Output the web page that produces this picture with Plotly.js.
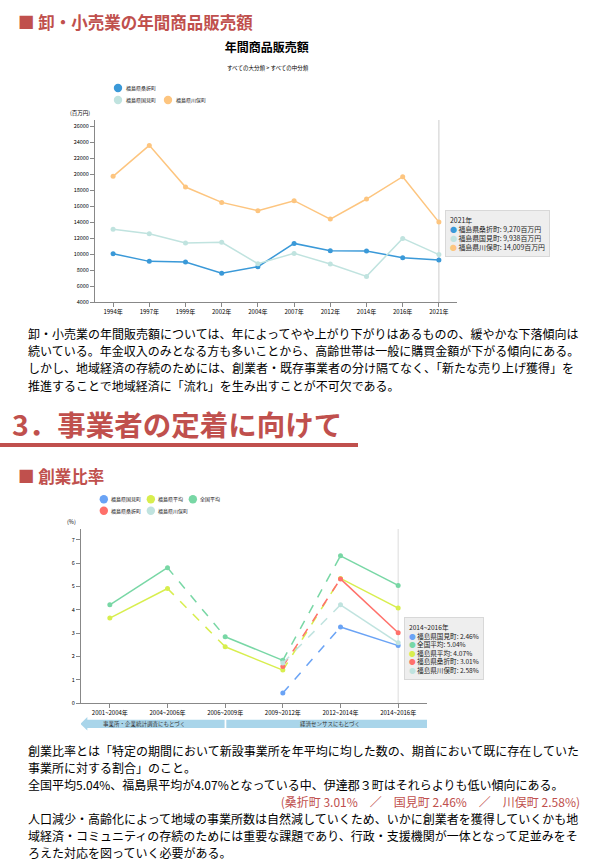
<!DOCTYPE html>
<html><head><meta charset="utf-8">
<script src="https://cdn.plot.ly/plotly-3.0.1.min.js"></script>
<style>
body{margin:0;width:612px;height:859px;position:relative;background:#fff;font-family:"Noto Sans CJK JP","Noto Sans",sans-serif;overflow:hidden;color:#000}
.hd{position:absolute;color:#c0504d;font-weight:bold;white-space:nowrap}
.p{position:absolute;left:28px;width:570px;font-size:12px;line-height:17.2px;margin:0;white-space:nowrap}
.chart{position:absolute;left:0;width:612px}
</style></head><body>
<div class="hd" style="left:18px;top:11px;font-size:16.5px;line-height:22px;">■ 卸・小売業の年間商品販売額</div>
<div id="c1" class="chart" style="top:35px;height:290px;"></div>
<div class="p" style="top:325px;">卸・小売業の年間販売額については、年によってやや上がり下がりはあるものの、緩やかな下落傾向は<br>続いている。年金収入のみとなる方も多いことから、高齢世帯は一般に購買金額が下がる傾向にある。<br>しかし、地域経済の存続のためには、創業者・既存事業者の分け隔てなく、「新たな売り上げ獲得」を<br>推進することで地域経済に「流れ」を生み出すことが不可欠である。</div>
<div class="hd" style="left:12px;top:406px;font-size:28.5px;line-height:36px;">3．事業者の定着に向けて</div>
<div style="position:absolute;left:0;top:443px;width:358px;height:4px;background:#c0504d;"></div>
<div class="hd" style="left:18px;top:465px;font-size:16.5px;line-height:22px;">■ 創業比率</div>
<div id="c2" class="chart" style="top:460px;height:280px;"></div>
<div class="p" style="top:742px;line-height:17px;">創業比率とは「特定の期間において新設事業所を年平均に均した数の、期首において既に存在していた<br>事業所に対する割合」のこと。<br>全国平均5.04%、福島県平均が4.07%となっている中、伊達郡３町はそれらよりも低い傾向にある。<br><div style="text-align:right;color:#c0504d;width:552px;">(桑折町 3.01%　／　国見町 2.46%　／　川俣町 2.58%)</div>人口減少・高齢化によって地域の事業所数は自然減していくため、いかに創業者を獲得していくかも地<br>域経済・コミュニティの存続のためには重要な課題であり、行政・支援機関が一体となって足並みをそ<div style="line-height:12px;margin-top:2.5px;">ろえた対応を図っていく必要がある。</div></div>
<script>
// ---- Chart 1 data ----
const years1 = ['1994年','1997年','1999年','2002年','2004年','2007年','2012年','2014年','2016年','2021年'];
const names1 = ['福島県桑折町','福島県国見町','福島県川俣町'];
const koori1 = [10050, 9090, 9010, 7590, 8420, 11340, 10430, 10380, 9550, 9270];
const kunimi1 = [13100, 12550, 11390, 11470, 8800, 10090, 8760, 7210, 11970, 9938];
const kawamata1 = [19740, 23620, 18400, 16480, 15440, 16690, 14390, 16900, 19700, 14009];
const colors1 = ['#3a99d8', '#c0e3df', '#fdc57f'];

// ---- Chart 2 data ----
const periods2 = ['2001~2004年','2004~2006年','2006~2009年','2009~2012年','2012~2014年','2014~2016年'];
const names2 = ['福島県国見町','福島県平均','全国平均','福島県桑折町','福島県川俣町'];
const kunimi2 = [null, null, null, 0.43, 3.26, 2.46];
const fukushima2 = [3.64, 4.91, 2.41, 1.41, 5.34, 4.07];
const national2 = [4.21, 5.80, 2.84, 1.83, 6.31, 5.04];
const koori2 = [null, null, null, 1.57, 5.32, 3.01];
const kawamata2 = [null, null, null, 1.71, 4.21, 2.58];
const colors2 = ['#6aa3f5', '#d8ee4e', '#78d7a5', '#ff706a', '#c0e3df'];
const dashedSegment = [false, true, false, true, false];
const tipOrder2 = [0, 2, 1, 3, 4];

// legend item pixel positions (circle centres) – layout only
const legendPos1 = [[118, 88], [118, 100], [168, 100]];
const legendPos2 = [[104, 499.5], [151, 499.5], [193, 499.5], [104, 511], [151, 511]];

const FONT = 'Noto Sans CJK JP';

function addLegend(layout, names, colors, pos, box) {
  names.forEach((n, k) => {
    const px = pos[k][0], py = pos[k][1];
    const xp = (px - box.l) / box.w, yp = (box.b - py) / box.h;
    layout.shapes.push({type: 'circle', xref: 'paper', yref: 'paper', xsizemode: 'pixel', ysizemode: 'pixel',
      xanchor: xp, yanchor: yp, x0: -4.2, x1: 4.2, y0: -4.2, y1: 4.2,
      fillcolor: colors[k], line: {width: 0}});
    layout.annotations.push({text: n, xref: 'paper', yref: 'paper', x: xp, y: yp, xshift: 5.5,
      xanchor: 'left', yanchor: 'middle', showarrow: false, font: {size: 5, color: '#111'}});
  });
}

// ===== Chart 1 =====
(function(){
  const series = [koori1, kunimi1, kawamata1];
  const idx = years1.map((_, i) => i);
  const traces = series.map((s, k) => ({x: idx, y: s, type: 'scatter', mode: 'lines+markers', name: names1[k],
      line: {color: colors1[k], width: 1.5}, marker: {color: colors1[k], size: 5},
      showlegend: false, hoverinfo: 'skip'}));
  const last = years1.length - 1;
  let tip = years1[last];
  series.forEach((s, k) => {
    tip += '<br><span style="color:' + colors1[k] + '">●</span> ' + names1[k] + ': ' + s[last].toLocaleString('en-US') + '百万円';
  });
  const box = {l: 95, w: 362, b: 302.3, h: 182.3};
  const layout = {
    width: 612, height: 290,
    margin: {l: 95, r: 155, t: 85, b: 22.7},
    paper_bgcolor: 'rgba(0,0,0,0)', plot_bgcolor: 'rgba(0,0,0,0)',
    font: {family: FONT, size: 6, color: '#000'},
    showlegend: false,
    title: {text: '年間商品販売額', font: {family: FONT, size: 12, color: '#000', weight: 'bold'},
      x: 0.436, xref: 'container', xanchor: 'center', y: 0.955, yref: 'container', yanchor: 'middle'},
    xaxis: {range: [-0.5, 9.5], tickvals: idx, ticktext: years1, showline: true, linecolor: '#888',
      ticks: 'outside', ticklen: 4, tickcolor: '#888', showgrid: false, zeroline: false,
      tickfont: {size: 6, color: '#000'}, fixedrange: true},
    yaxis: {range: [4000, 26800], tick0: 4000, dtick: 2000, tickformat: 'd', showline: true,
      linecolor: '#888', ticks: 'outside', ticklen: 4, tickcolor: '#888', showgrid: false,
      zeroline: false, tickfont: {size: 5.5, color: '#000'}, fixedrange: true},
    shapes: [{type: 'line', xref: 'x', yref: 'paper', x0: last, x1: last, y0: 0, y1: 1,
      line: {color: '#cccccc', width: 1}, layer: 'below'}],
    annotations: [
      {text: 'すべての大分類 > すべての中分類', xref: 'paper', yref: 'paper', x: 0.478, y: 1.285,
        xanchor: 'center', yanchor: 'middle', showarrow: false, font: {size: 5.5}},
      {text: '(百万円)', xref: 'paper', yref: 'paper', x: -0.008, y: 1.038, xanchor: 'right',
        yanchor: 'middle', showarrow: false, font: {size: 5.5}},
      {text: tip, xref: 'x', yref: 'y', x: last, y: 12550, xanchor: 'left', xshift: 6,
        yanchor: 'middle', align: 'left', showarrow: false, bgcolor: '#eeeeee',
        bordercolor: '#d8d8d8', borderwidth: 1, borderpad: 4, font: {size: 6.9, color: '#222'}}
    ]
  };
  addLegend(layout, names1, colors1, legendPos1, box);
  Plotly.newPlot('c1', traces, layout, {staticPlot: true, displayModeBar: false});
})();

// ===== Chart 2 =====
(function(){
  const series = [kunimi2, fukushima2, national2, koori2, kawamata2];
  const idx = periods2.map((_, i) => i);
  const traces = [];
  series.forEach((s, k) => {
    for (let i = 0; i < s.length - 1; i++) {
      if (s[i] === null || s[i + 1] === null) continue;
      traces.push({x: [idx[i], idx[i + 1]], y: [s[i], s[i + 1]], type: 'scatter', mode: 'lines',
        line: {color: colors2[k], width: 1.5, dash: dashedSegment[i] ? 'dash' : 'solid'},
        showlegend: false, hoverinfo: 'skip'});
    }
    traces.push({x: idx, y: s, type: 'scatter', mode: 'markers', name: names2[k],
      marker: {color: colors2[k], size: 5}, showlegend: false, hoverinfo: 'skip'});
  });
  const last = periods2.length - 1;
  let tip = periods2[last];
  tipOrder2.forEach(k => {
    tip += '<br><span style="color:' + colors2[k] + '">●</span> ' + names2[k] + ': ' + series[k][last].toFixed(2) + '%';
  });
  const ay = -0.120, bt = -0.096, bb = -0.144, ht = -0.080, hb = -0.158;
  const leftPath = `M -0.51 ${ay} L -0.39 ${ht} L -0.39 ${bt} L 1.99 ${bt} L 1.99 ${bb} L -0.39 ${bb} L -0.39 ${hb} Z`;
  const rightPath = `M 2.02 ${bt} L 5.62 ${bt} L 5.62 ${ht} L 5.75 ${ay} L 5.62 ${hb} L 5.62 ${bb} L 2.02 ${bb} Z`;
  const box = {l: 81.2, w: 345.8, b: 703.3, h: 174};
  const layout = {
    width: 612, height: 280,
    margin: {l: 81.2, r: 185, t: 69.3, b: 36.7},
    paper_bgcolor: 'rgba(0,0,0,0)', plot_bgcolor: 'rgba(0,0,0,0)',
    font: {family: FONT, size: 6, color: '#000'},
    showlegend: false,
    xaxis: {range: [-0.5, 5.5], tickvals: idx, ticktext: periods2, showline: true, linecolor: '#888',
      ticks: 'outside', ticklen: 4, tickcolor: '#888', showgrid: false, zeroline: false,
      tickfont: {size: 6, color: '#000'}, fixedrange: true},
    yaxis: {range: [0, 7.46], dtick: 1, tick0: 0, showline: true, linecolor: '#888',
      ticks: 'outside', ticklen: 4, tickcolor: '#888', showgrid: false, zeroline: false,
      tickfont: {size: 5.5, color: '#000'}, fixedrange: true},
    shapes: [
      {type: 'line', xref: 'x', yref: 'paper', x0: last, x1: last, y0: 0, y1: 1,
        line: {color: '#dddddd', width: 1}, layer: 'below'},
      {type: 'path', xref: 'x', yref: 'paper', path: leftPath, fillcolor: '#a9d5ea', line: {width: 0}},
      {type: 'path', xref: 'x', yref: 'paper', path: rightPath, fillcolor: '#a9d5ea', line: {width: 0}}
    ],
    annotations: [
      {text: '(%)', xref: 'paper', yref: 'paper', x: -0.009, y: 1.042, xanchor: 'right',
        yanchor: 'middle', showarrow: false, font: {size: 5.5}},
      {text: '事業所・企業統計調査にもとづく', xref: 'x', yref: 'paper', x: 0.6, y: ay,
        xanchor: 'center', yanchor: 'middle', showarrow: false, font: {size: 5.5, color: '#333'}},
      {text: '経済センサスにもとづく', xref: 'x', yref: 'paper', x: 3.81, y: ay,
        xanchor: 'center', yanchor: 'middle', showarrow: false, font: {size: 5.5, color: '#333'}},
      {text: tip, xref: 'x', yref: 'y', x: last, y: 2.33, xanchor: 'left', xshift: 6,
        yanchor: 'middle', align: 'left', showarrow: false, bgcolor: '#eeeeee',
        bordercolor: '#d8d8d8', borderwidth: 1, borderpad: 4, font: {size: 6.6, color: '#222'}}
    ]
  };
  addLegend(layout, names2, colors2, legendPos2, box);
  Plotly.newPlot('c2', traces, layout, {staticPlot: true, displayModeBar: false});
})();
</script>
</body></html>
